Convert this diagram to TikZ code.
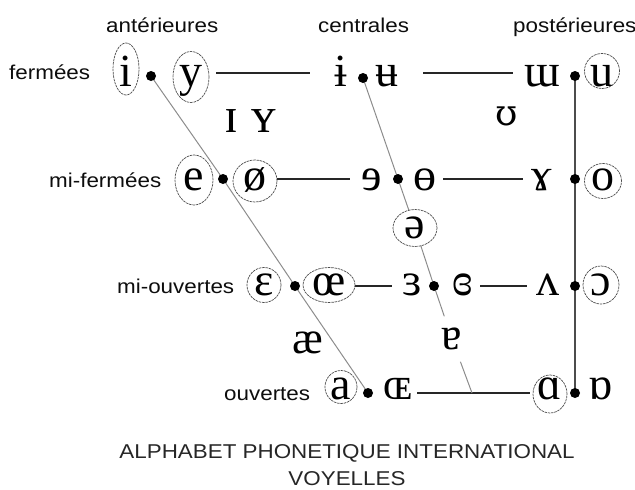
\documentclass[tikz,border=0pt]{standalone}
\usepackage{fontspec}
\setmainfont{Liberation Serif}
\newfontfamily\labfont[FakeStretch=1.12]{Liberation Sans}
\newfontfamily\ipafont{Liberation Serif}
\newfontfamily\ipaalt{DejaVu Serif}
\usetikzlibrary{shapes.geometric,calc}
\pgfdeclarelayer{bg}
\pgfsetlayers{bg,main}
\begin{document}
\begin{tikzpicture}[x=1pt,y=-1pt,
  lab/.style={font=\labfont\fontsize{20}{24}\selectfont, text=black!95, inner sep=0pt, anchor=base west},
  ttl/.style={font=\labfont\fontsize{20}{24}\selectfont, text=black!85, inner sep=0pt, anchor=base},
  ipa/.style={font=\ipafont\fontsize{46}{50}\selectfont, inner sep=0pt, text height=21pt, text depth=0pt},
  ring/.style={ellipse, draw=black!70, line width=0.7pt, dash pattern=on 2.5pt off 0.8pt, inner sep=0pt},
  pt/.style={circle, fill=black, inner sep=0pt, minimum size=10pt},
  hline/.style={draw=black!85, line width=1.1pt},
  dline/.style={draw=black!45, line width=1pt},
  bline/.style={draw=black!70, line width=1.6pt}]
\useasboundingbox (0,0) rectangle (635,490);

% headings
\node[lab] (hA) at (106,32) {antérieures};
\node[lab] (hC) at (318,32) {centrales};
\node[lab] (hP) at (513,32) {postérieures};
\node[lab] (r1) at (9,79) {fermées};
\node[lab] (r2) at (49,187) {mi-fermées};
\node[lab] (r3) at (117,293) {mi-ouvertes};
\node[lab] (r4) at (224,400) {ouvertes};
\node[ttl] (t1) at (347,458) {ALPHABET PHONETIQUE INTERNATIONAL};
\node[ttl] (t2) at (347,485) {VOYELLES};

% row 1
\coordinate (L1) at (0,73);
\node[ipa] (vi) at (126,76) {i};
\node[ring, minimum width=26pt, minimum height=52pt] (ci) at (126,69) {};
\node[pt] (d1) at (151,76) {};
\node[ipa] (vy) at (191,76) {y};
\node[ring, minimum width=36pt, minimum height=51pt] (cy) at (191,77) {};
\node[ipa] (vbi) at (341,76) {ɨ};
\node[pt] (dc1) at (363,78) {};
\node[ipa] (vbu) at (387,76) {ʉ};
\node[ipa] (vum) at (542,76) {ɯ};
\node[pt] (db1) at (575,76) {};
\node[ipa] (vu) at (602,76) {u};
\node[ring, minimum width=35pt, minimum height=35pt] (cu) at (602,71) {};

% near-close
\node[ipa, font=\ipafont\fontsize{50}{54}\selectfont] (vI) at (231,122) {ɪ};
\node[ipa, font=\ipafont\fontsize{50}{54}\selectfont] (vY) at (264,122) {ʏ};
\node[ipa, font=\ipaalt\fontsize{36}{40}\selectfont] (vU) at (507,115) {ʊ};

% row 2
\node[ipa] (ve) at (194,180) {e};
\node[ring, minimum width=38pt, minimum height=50pt] (ce) at (194,180) {};
\node[pt] (d2) at (223,179) {};
\node[ipa] (vo/) at (255,180) {ø};
\node[ring, minimum width=44pt, minimum height=42pt] (co/) at (255,181) {};
\node[ipa] (vre) at (372,180) {ɘ};
\node[pt] (dc2) at (398,179) {};
\node[ipa] (vbo) at (425,180) {ɵ};
\node[ipa] (vga) at (542,180) {ɤ};
\node[pt] (db2) at (575,179) {};
\node[ipa] (vo) at (603,180) {o};
\node[ring, minimum width=37pt, minimum height=35pt] (co) at (603,181) {};

% schwa
\node[ipa] (vschwa) at (415,228) {ə};
\node[ring, minimum width=44pt, minimum height=37pt] (cschwa) at (415,228) {};

% row 3
\node[ipa] (veps) at (264,285) {ɛ};
\node[ring, minimum width=34pt, minimum height=35pt] (ceps) at (264,285) {};
\node[pt] (d3) at (295,286) {};
\node[ipa] (voe) at (329,285) {œ};
\node[ring, minimum width=52pt, minimum height=35pt] (coe) at (329,285) {};
\node[ipa] (vre3) at (412,285) {ɜ};
\node[pt] (dc3) at (434,286) {};
\node[ipa] (vcre) at (463,285) {ɞ};
\node[ipa] (vwv) at (548,285) {ʌ};
\node[pt] (db3) at (575,286) {};
\node[ipa] (voc) at (601,285) {ɔ};
\node[ring, minimum width=36pt, minimum height=38pt] (coc) at (601,285) {};

% near-open
\node[ipa] (vae) at (308,343) {æ};
\node[ipa, inner ysep=12pt] (vta) at (452,339) {ɐ};

% row 4
\node[ipa] (va) at (341,389) {a};
\node[ring, minimum width=32pt, minimum height=33pt] (ca) at (341,387) {};
\node[pt] (d4) at (368,393) {};
\node[ipa] (vOE) at (398,389) {ɶ};
\coordinate (cb) at (472,393);
\node[ipa] (valpha) at (550,389) {ɑ};
\node[ring, minimum width=34pt, minimum height=38pt] (calpha) at (550,394) {};
\node[pt] (db4) at (575,393) {};
\node[ipa] (vturn) at (601,389) {ɒ};

\begin{pgfonlayer}{bg}
  % horizontal lines
  \draw[hline] ($(cy.center |- L1)+(25,0)$) -- ($(vbi.center |- L1)+(-31,0)$);
  \draw[hline] ($(vbu.center |- L1)+(36,0)$) -- ($(vum.center |- L1)+(-29,0)$);
  \draw[hline] (co/.east |- d2) -- ($(vre.center |- d2)+(-22,0)$);
  \draw[hline] ($(vbo.center |- d2)+(18,0)$) -- ($(vga.center |- d2)+(-19,0)$);
  \draw[hline] (coe.east |- d3) -- ($(vre3.center |- d3)+(-20,0)$);
  \draw[hline] ($(vcre.center |- d3)+(17,0)$) -- ($(vwv.center |- d3)+(-21,0)$);
  \draw[hline] ($(vOE.center |- d4)+(19,0)$) -- ($(calpha.west |- d4)+(-3,0)$);
  % front, central, back lines
  \draw[dline] (d1.center) -- (d2.center) -- (d3.center) -- (d4.center);
  \draw[dline] (dc1.center) -- (dc2.center) -- (cschwa) -- (dc3.center) -- (vta) -- (cb);
  \draw[bline] (db1.center) -- (db4.center);
\end{pgfonlayer}
\end{tikzpicture}
\end{document}
